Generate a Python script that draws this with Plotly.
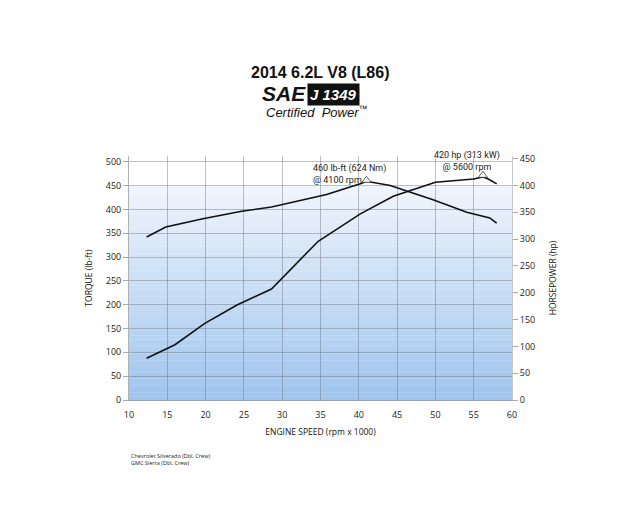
import plotly.graph_objects as go

# ---- data ----
torque_rpm = [12.3, 14.8, 19.5, 24.7, 28.6, 32.0, 35.8, 40.4, 41.0, 44.1, 49.7, 54.1, 57.1, 58.0]
torque_lbft = [342, 363, 380, 396, 405, 418, 431, 455, 459, 450, 420, 394, 382, 371]

hp_rpm = [12.3, 16.0, 19.9, 24.1, 28.6, 31.2, 34.7, 40.2, 41.5, 44.5, 50.0, 55.0, 56.2, 56.9, 58.0]
hp_values = [78, 103, 143, 177, 207, 245, 296, 347, 357, 380, 406, 412, 416, 412, 403]

peak_torque_rpm = [41.0]
peak_torque_val = [461]
peak_hp_rpm = [56.2]
peak_hp_val = [419]

x_ticks = [10, 15, 20, 25, 30, 35, 40, 45, 50, 55, 60]
torque_ticks = [0, 50, 100, 150, 200, 250, 300, 350, 400, 450, 500]
hp_ticks = [0, 50, 100, 150, 200, 250, 300, 350, 400, 450]

fig = go.Figure()

fig.add_trace(go.Scatter(x=torque_rpm, y=torque_lbft, mode="lines",
                         line=dict(color="#111111", width=1.6), yaxis="y", showlegend=False))
fig.add_trace(go.Scatter(x=hp_rpm, y=hp_values, mode="lines",
                         line=dict(color="#111111", width=1.6), yaxis="y2", showlegend=False))
fig.add_trace(go.Scatter(x=peak_torque_rpm, y=peak_torque_val, mode="markers",
                         marker=dict(symbol="triangle-up", size=8, color="white",
                                     line=dict(color="#333333", width=0.8)),
                         yaxis="y", showlegend=False))
fig.add_trace(go.Scatter(x=peak_hp_rpm, y=peak_hp_val, mode="markers",
                         marker=dict(symbol="triangle-up", size=8, color="white",
                                     line=dict(color="#333333", width=0.8)),
                         yaxis="y2", showlegend=False))

# ---- gradient background (bands below gridlines) ----
shapes = []
top_c = (240, 245, 252)
bot_c = (158, 196, 237)
grad_top = 0.877
n = 60
for i in range(n):
    y0 = grad_top * i / n
    y1 = grad_top * (i + 1) / n
    t = (i + 0.5) / n
    c = tuple(round(bot_c[k] + (top_c[k] - bot_c[k]) * t) for k in range(3))
    shapes.append(dict(type="rect", xref="x domain", yref="y domain",
                       x0=0, x1=1, y0=y0, y1=y1 + 0.001, layer="below",
                       line=dict(width=0), fillcolor="rgb(%d,%d,%d)" % c))

tick_font = dict(family="Open Sans", size=9, color="#222222")
grid_c = "rgba(110,115,130,0.45)"

fig.update_layout(
    width=640, height=524,
    margin=dict(l=129, r=128, t=156, b=124),
    paper_bgcolor="white", plot_bgcolor="white",
    shapes=shapes,
    xaxis=dict(range=[10, 60], tickvals=x_ticks, ticks="outside", ticklen=6,
               tickcolor="rgba(0,0,0,0)", showgrid=True, gridcolor=grid_c, gridwidth=1,
               zeroline=False, showline=True, linecolor="#9aa3b0", linewidth=1,
               tickfont=dict(family="Open Sans", size=9, color="#222222"),
               title=dict(text="ENGINE SPEED (rpm x 1000)",
                          font=dict(family="Open Sans", size=8.5, color="#111111"),
                          standoff=9)),
    yaxis=dict(range=[0, 512], tickvals=torque_ticks, ticks="outside", ticklen=5,
               tickcolor="#aaaaaa", showgrid=True, gridcolor=grid_c, gridwidth=1,
               zeroline=False, showline=True, linecolor="#b0b0b0", linewidth=1,
               tickfont=tick_font,
               title=dict(text="TORQUE (lb-ft)",
                          font=dict(family="Open Sans", size=8.5, color="#111111"),
                          standoff=11)),
    yaxis2=dict(range=[0, 455], tickvals=hp_ticks, overlaying="y", side="right",
                ticks="outside", ticklen=5, tickcolor="#aaaaaa", showgrid=False,
                zeroline=False, showline=True, linecolor="#c8c8c8", linewidth=1,
                tickfont=tick_font,
                title=dict(text="HORSEPOWER (hp)",
                           font=dict(family="Open Sans", size=8.5, color="#111111"),
                           standoff=15)),
)

ann = []
ann.append(dict(text="<b>2014 6.2L V8 (L86)</b>", xref="paper", yref="paper",
                x=0, y=1.0, xanchor="center", yanchor="bottom", showarrow=False,
                xshift=191, yshift=73,
                font=dict(family="Liberation Sans", size=16, color="#111111")))
# SAE logo
ann.append(dict(text="<b><i>SAE</i></b>", x=0, y=1, xref="paper", yref="paper",
                xanchor="right", yanchor="bottom", showarrow=False, xshift=179, yshift=49,
                font=dict(family="Liberation Sans", size=21, color="#111111")))
ann.append(dict(text="<b><i>J 1349</i></b>", x=0, y=1, xref="paper", yref="paper",
                xanchor="left", yanchor="bottom", showarrow=False, xshift=178, yshift=50,
                bgcolor="#111111", borderpad=2,
                font=dict(family="Liberation Sans", size=15, color="white")))
ann.append(dict(text="<i>Certified  Power</i><sup>™</sup>", x=0, y=1, xref="paper",
                yref="paper", xanchor="left", yanchor="bottom", showarrow=False,
                xshift=135, yshift=34,
                font=dict(family="Liberation Sans", size=13, color="#111111")))
# peak labels
ann.append(dict(text="460 lb-ft (624 Nm)<br>@ 4100 rpm", x=33.8, y=447, xref="x", yref="y",
                xanchor="left", yanchor="bottom", align="left", showarrow=False,
                font=dict(family="Roboto", size=9, color="#222222")))
ann.append(dict(text="420 hp (313 kW)<br>@ 5600 rpm", x=54.1, y=421, xref="x", yref="y2",
                xanchor="center", yanchor="bottom", align="center", showarrow=False,
                font=dict(family="Roboto", size=9, color="#222222")))
# footnotes
ann.append(dict(text="Chevrolet Silverado (Dbl, Crew)<br>GMC Sierra (Dbl, Crew)",
                x=0, y=0, xref="paper", yref="paper", xanchor="left", yanchor="top",
                align="left", showarrow=False, xshift=0, yshift=-50,
                font=dict(family="Open Sans", size=5.5, color="#222222")))
fig.update_layout(annotations=ann)

fig.write_html("out.html", post_script="document.body.style.margin='0';",
               config={"displayModeBar": False})
